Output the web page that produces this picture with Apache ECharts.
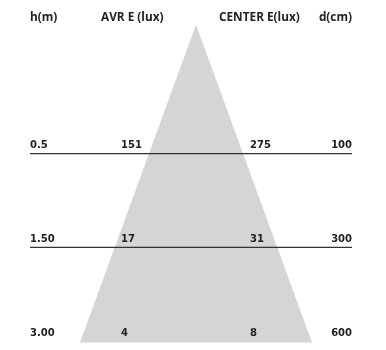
<!DOCTYPE html>
<html><head><meta charset="utf-8">
<script src="https://cdn.jsdelivr.net/npm/echarts@6/dist/echarts.min.js"></script>
<style>html,body{margin:0;padding:0;background:#fff}#c{width:386px;height:350px}</style>
</head><body><div id="c"></div>
<script>
var headers = ['h(m)', 'AVR E (lux)', 'CENTER E(lux)', 'd(cm)'];
var heights = ['0.5', '1.50', '3.00'];
var avrLux = [151, 17, 4];
var centerLux = [275, 31, 8];
var diameters = [100, 300, 600];
var showRule = [true, true, false];

var chart = echarts.init(document.getElementById('c'), null, {renderer: 'canvas'});
var headFont = 'bold 11.8px "Open Sans", sans-serif';
var numFont = 'bold 10px "DejaVu Sans", sans-serif';
var rows = heights.map(function (h, i) { return [i]; });

chart.setOption({
  animation: false,
  grid: {left: 0, width: 386, top: 12.5, height: 342},
  xAxis: {type: 'value', min: 0, max: 386, show: false},
  yAxis: {type: 'value', min: -1.5, max: 2.1, inverse: true, show: false},
  series: [
    {
      type: 'custom', silent: true, clip: false, z: 1,
      data: [[0]],
      renderItem: function (params, api) {
        var a = api.coord([196, -1.37]);
        var l = api.coord([80, 2.02]);
        var r = api.coord([312, 2.02]);
        return {type: 'polygon', shape: {points: [a, l, r]}, style: {fill: '#d5d5d5'}};
      }
    },
    {
      type: 'custom', silent: true, clip: false, z: 2,
      data: rows,
      renderItem: function (params, api) {
        var i = api.value(0);
        var children = [];
        var p0 = api.coord([30, i]);
        var p1 = api.coord([352, i]);
        if (showRule[i]) {
          children.push({type: 'line', shape: {x1: p0[0], y1: p0[1] + 0.5, x2: p1[0], y2: p1[1] + 0.5}, style: {stroke: '#333', lineWidth: 1.2}});
        }
        var ty = p0[1] - 7.5;
        var cols = [
          {x: 30, t: heights[i], a: 'left'},
          {x: 121, t: String(avrLux[i]), a: 'left'},
          {x: 250, t: String(centerLux[i]), a: 'left'},
          {x: 352, t: String(diameters[i]), a: 'right'}
        ];
        cols.forEach(function (c) {
          var p = api.coord([c.x, i]);
          children.push({type: 'text', style: {x: p[0], y: ty, text: c.t, font: numFont, fill: '#222', align: c.a, verticalAlign: 'middle'}});
        });
        return {type: 'group', children: children};
      }
    },
    {
      type: 'custom', silent: true, clip: false, z: 3,
      data: [[0]],
      renderItem: function (params, api) {
        var xs = [30, 101, 219, 352];
        var al = ['left', 'left', 'left', 'right'];
        return {type: 'group', children: headers.map(function (h, k) {
          var p = api.coord([xs[k], -1.442]);
          return {type: 'text', style: {x: p[0], y: p[1], text: h, font: headFont, fill: '#222', align: al[k], verticalAlign: 'middle'}};
        })};
      }
    }
  ]
});
</script></body></html>
